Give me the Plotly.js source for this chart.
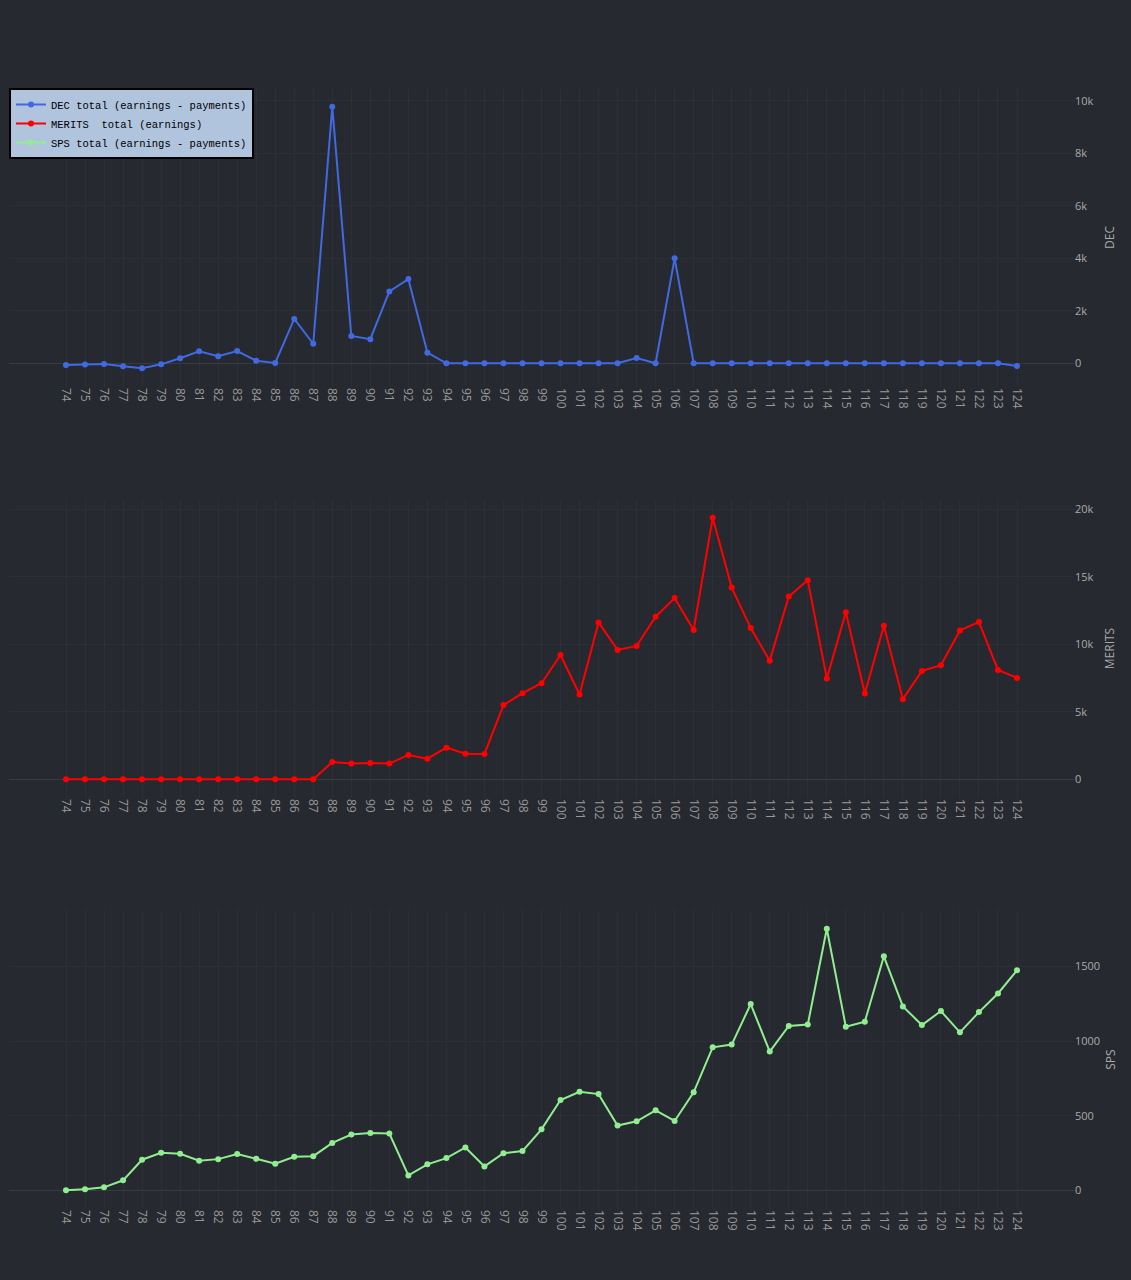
<!DOCTYPE html>
<html>
<head>
<meta charset="utf-8">
<script src="https://cdn.plot.ly/plotly-3.0.1.min.js"></script>
<style>
  html, body { margin: 0; padding: 0; background: #26292f; }
  #chart { width: 1131px; height: 1280px; }
</style>
</head>
<body>
<div id="chart"></div>
<script>
const seasons = ["74","75","76","77","78","79","80","81","82","83","84","85","86","87","88","89","90","91","92","93","94","95","96","97","98","99","100","101","102","103","104","105","106","107","108","109","110","111","112","113","114","115","116","117","118","119","120","121","122","123","124"];

const decTotal = [-70,-50,-25,-110,-190,-40,190,455,265,465,100,15,1690,745,9780,1040,920,2740,3210,405,0,0,0,0,0,0,0,0,0,0,200,0,4000,0,0,0,0,0,0,0,0,0,0,0,0,0,0,0,0,0,-100];

const meritsTotal = [0,0,0,0,0,0,0,0,0,0,0,0,0,0,1280,1160,1200,1160,1800,1520,2340,1890,1870,5490,6370,7110,9200,6270,11610,9570,9870,12030,13410,11050,19360,14190,11190,8780,13530,14740,7450,12370,6350,11370,5930,8020,8440,11020,11640,8090,7500];

const spsTotal = [0,7,20,67,205,251,245,198,209,243,211,178,225,229,318,374,385,381,100,174,216,287,160,249,263,409,605,661,645,434,463,536,465,657,959,977,1249,930,1102,1111,1754,1097,1131,1569,1233,1108,1202,1059,1195,1320,1475];

const seriesNames = ["DEC total (earnings - payments)", "MERITS  total (earnings)", "SPS total (earnings - payments)"];
const axisTitles = ["DEC", "MERITS", "SPS"];
const colors = ["#4169e1", "#ff0000", "#90ee90"];

const values = [decTotal, meritsTotal, spsTotal];
const traces = values.map((v, i) => ({
  type: "scatter",
  mode: "lines+markers",
  x: seasons,
  y: v,
  name: seriesNames[i],
  xaxis: i === 0 ? "x" : "x" + (i + 1),
  yaxis: i === 0 ? "y" : "y" + (i + 1),
  line: { color: colors[i], width: 2 },
  marker: { color: colors[i], size: 6 }
}));

const gridColor = "#2c2f36";
const zeroColor = "#363a41";
const domains = [[0.7333, 1], [0.3667, 0.6333], [0, 0.2667]];

const layout = {
  width: 1131,
  height: 1280,
  paper_bgcolor: "#26292f",
  plot_bgcolor: "#26292f",
  font: { family: "Open Sans, sans-serif", color: "#aaaaaa", size: 12 },
  margin: { l: 9, r: 57, t: 88, b: 71 },
  showlegend: true,
  legend: {
    x: 0, y: 1, xanchor: "left", yanchor: "top",
    bgcolor: "#b0c4de",
    bordercolor: "#000000",
    borderwidth: 2,
    tracegroupgap: 0,
    font: { family: "Liberation Mono, Courier New, monospace", size: 10.5, color: "#000000" }
  }
};

for (let i = 0; i < 3; i++) {
  const xk = i === 0 ? "xaxis" : "xaxis" + (i + 1);
  const yk = i === 0 ? "yaxis" : "yaxis" + (i + 1);
  const yid = i === 0 ? "y" : "y" + (i + 1);
  const xid = i === 0 ? "x" : "x" + (i + 1);
  layout[xk] = {
    type: "category",
    anchor: yid,
    domain: [0, 1],
    tickangle: 90,
    tickmode: "linear",
    dtick: 1,
    showgrid: true,
    gridcolor: gridColor,
    zeroline: false,
    showline: false,
    ticks: "",
    tickfont: { size: 12, color: "#999999" }
  };
  layout[yk] = {
    anchor: xid,
    domain: domains[i],
    side: "right",
    showgrid: true,
    gridcolor: gridColor,
    zeroline: true,
    zerolinecolor: zeroColor,
    zerolinewidth: 1,
    showline: false,
    ticks: "",
    tickfont: { size: 11, color: "#aaaaaa" },
    title: { text: axisTitles[i], font: { size: 12, color: "#aaaaaa" } }
  };
}

Plotly.newPlot("chart", traces, layout, { displayModeBar: false, responsive: false });
</script>
</body>
</html>
